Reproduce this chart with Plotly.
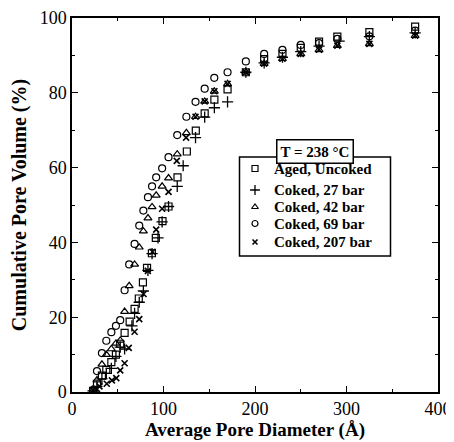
import plotly.graph_objects as go

# ---- data ----
aged_x = [23, 27.3, 32.7, 37.5, 43, 48, 52.7, 57.5, 63, 68.4, 73, 77.5, 82, 87.3, 91.6, 98.9,
          105.5, 115.3, 125.5, 135.3, 145, 155.6, 170, 190, 210, 230, 250, 270, 290, 325, 375]
aged_y = [0.3, 2.2, 4.4, 5.9, 8, 10, 12.9, 15.8, 18.8, 22.2, 25, 29.3, 33.2, 37.1, 41.2, 45.7,
          49.6, 57.4, 64.3, 69.9, 74.5, 78.2, 80.9, 85.5, 89, 90.4, 92, 93.7, 95, 96.2, 97.7]

c27_x = [23, 27.3, 32.7, 37.5, 43, 48, 52.7, 57.5, 65.5, 68.4, 73.5, 78, 83, 87.5, 94, 98.5,
         105.5, 115, 121.5, 135, 145, 155.6, 170, 190, 210, 230, 250, 270, 292, 325, 375]
c27_y = [0.3, 1.5, 3.5, 5, 6.3, 9.5, 12, 11.5, 17.7, 21, 24, 27, 32.5, 37, 41.2, 45.5,
         49.6, 55, 60.5, 68, 73.5, 76, 77.6, 85.5, 88, 89.5, 91, 92.5, 93.8, 95, 96]

c42_x = [23, 27.3, 32.7, 37.5, 43, 48, 52.7, 57.5, 62.5, 68.4, 73.5, 78, 83, 87.5, 92, 98.5,
         105.5, 115, 125, 135, 145, 155.5, 170, 190, 210, 230, 250, 270, 290, 325, 375]
c42_y = [0.4, 3.2, 7.4, 10, 11.5, 13, 13.8, 21.5, 28.4, 34.1, 38.7, 43, 46.5, 49.5, 52.6, 55,
         57.2, 63.6, 69.3, 73.6, 77.7, 80.4, 82.4, 85.5, 87.8, 89.1, 90.4, 91.5, 92.6, 93.1, 95.3]

c69_x = [23, 27.3, 32.7, 37.5, 43, 48, 52.7, 57.5, 62.5, 68.4, 73.5, 78, 83, 87.5, 92, 98.5,
         105.5, 115, 125, 135, 145, 155.5, 170, 190, 210, 230, 250, 270, 290, 325, 375]
c69_y = [0.5, 5.6, 10.4, 13.7, 16, 17.7, 19.2, 27.2, 34.1, 39.6, 44.5, 48.5, 52.1, 55, 57.4, 59.8,
         62.8, 68.7, 73.6, 77.6, 81.1, 84, 85.5, 88.4, 90.4, 91.5, 92.8, 93.3, 94.4, 95.1, 96.6]

c207_x = [23, 27.3, 30, 38, 43.6, 48.4, 52.7, 57.5, 62, 68.4, 73.5, 78.2, 82.9, 88, 92, 98.5,
          105.5, 114.5, 124.7, 135, 145, 155.6, 170, 190, 210, 230, 250, 270, 290, 325, 375]
c207_y = [0.4, 0.8, 1.5, 2.2, 3.1, 3.7, 5.8, 7.7, 11.8, 16.1, 19.5, 26.2, 32.4, 37.5, 43.4, 49,
          53.5, 61.8, 68, 73.6, 77.7, 80.4, 82.4, 85.5, 87.8, 89.1, 90.4, 91.5, 92.6, 93.1, 95.3]

series_names = ["Aged, Uncoked", "Coked, 27 bar", "Coked, 42 bar", "Coked, 69 bar", "Coked, 207 bar"]
x_ticks = [0, 100, 200, 300, 400]
y_ticks = [0, 20, 40, 60, 80, 100]

FONT = "Liberation Serif"

# The page body adds an 8px offset; size the figure to fit the window after it.
OFF = 8
W, H = 454 - OFF, 442 - OFF
# target plot area in window pixels
PX0, PX1, PY0, PY1 = 72, 438, 18, 392
L, T = PX0 - OFF, PY0 - OFF
R, B = W - (PX1 - OFF), H - (PY1 - OFF)
PW, PH = PX1 - PX0, PY1 - PY0


def px2paper(px, py):
    """window pixel -> paper coordinate"""
    return (px - PX0) / PW, (PY1 - py) / PH


fig = go.Figure()
styles = [
    ("square-open", 7, 1.2),
    ("cross-thin-open", 8, 1.3),
    ("triangle-up-open", 7, 1.2),
    ("circle-open", 7, 1.2),
    ("x-thin-open", 6, 1.6),
]
data = [(aged_x, aged_y), (c27_x, c27_y), (c42_x, c42_y), (c69_x, c69_y), (c207_x, c207_y)]
for (xs, ys), (sym, sz, lw), name in zip(data, styles, series_names):
    fig.add_trace(go.Scatter(
        x=xs, y=ys, mode="markers", name=name, showlegend=False,
        marker=dict(symbol=sym, size=sz, color="black",
                    line=dict(color="black", width=lw)),
    ))

# ---- manual legend (box, markers on an overlay paper-like axis, texts) ----
bx0, by0 = px2paper(239.5, 157)
bx1, by1 = px2paper(390.5, 256)
fig.add_shape(type="rect", xref="paper", yref="paper", x0=bx0, y0=by1, x1=bx1, y1=by0,
              line=dict(color="black", width=1.5), fillcolor="white", layer="below")
row_py = [168.5, 190, 207, 223.5, 242]
mk_x, _ = px2paper(255, 0)
tx_x, _ = px2paper(272, 0)
row_y = [px2paper(0, p)[1] for p in row_py]
for (sym, sz, lw), name, ry in zip(styles, series_names, row_y):
    fig.add_trace(go.Scatter(
        x=[mk_x], y=[ry], xaxis="x2", yaxis="y2", mode="markers", showlegend=False,
        hoverinfo="skip", cliponaxis=False,
        marker=dict(symbol=sym, size=sz - 1, color="black", line=dict(color="black", width=lw)),
    ))
    fig.add_annotation(x=tx_x, y=ry, xref="paper", yref="paper", showarrow=False,
                       xanchor="left", yanchor="middle", text="<b>" + name + "</b>",
                       font=dict(family=FONT, size=15, color="black"))

axis_common = dict(
    showline=True, linecolor="black", linewidth=1.5, mirror="ticks",
    ticks="inside", ticklen=6, tickwidth=1.2, tickcolor="black",
    showgrid=False, zeroline=False, automargin=False, ticklabeloverflow="allow",
    tickfont=dict(family=FONT, size=18, color="black"),
)
fig.update_layout(
    xaxis=dict(range=[0, 400], tickvals=x_ticks, ticktext=[str(v) for v in x_ticks],
               minor=dict(ticks="inside", ticklen=3, dtick=50, tickcolor="black"),
               title=dict(text="<b>Average Pore Diameter (Å)</b>",
                          font=dict(family=FONT, size=19, color="black"), standoff=2),
               **axis_common),
    yaxis=dict(range=[0, 100], tickvals=y_ticks, ticktext=[str(v) for v in y_ticks],
               minor=dict(ticks="inside", ticklen=3, dtick=10, tickcolor="black"),
               title=dict(text="<b>Cumulative Pore Volume (%)</b>",
                          font=dict(family=FONT, size=20, color="black"), standoff=15),
               **axis_common),
    xaxis2=dict(overlaying="x", range=[0, 1], visible=False, fixedrange=True),
    yaxis2=dict(overlaying="y", range=[0, 1], visible=False, fixedrange=True),
)

tcx, tcy = px2paper(315, 138.5)
fig.add_annotation(
    x=tcx, y=tcy, xref="paper", yref="paper", showarrow=False,
    text="<b>T = 238 °C</b>", font=dict(family=FONT, size=15, color="black"),
    bordercolor="black", borderwidth=1.5, borderpad=3, bgcolor="white",
)

fig.update_layout(
    width=W, height=H,
    margin=dict(l=L, r=R, t=T, b=B),
    paper_bgcolor="white", plot_bgcolor="white",
    font=dict(family=FONT, color="black"),
    showlegend=False,
)

fig.write_html("out.html")
